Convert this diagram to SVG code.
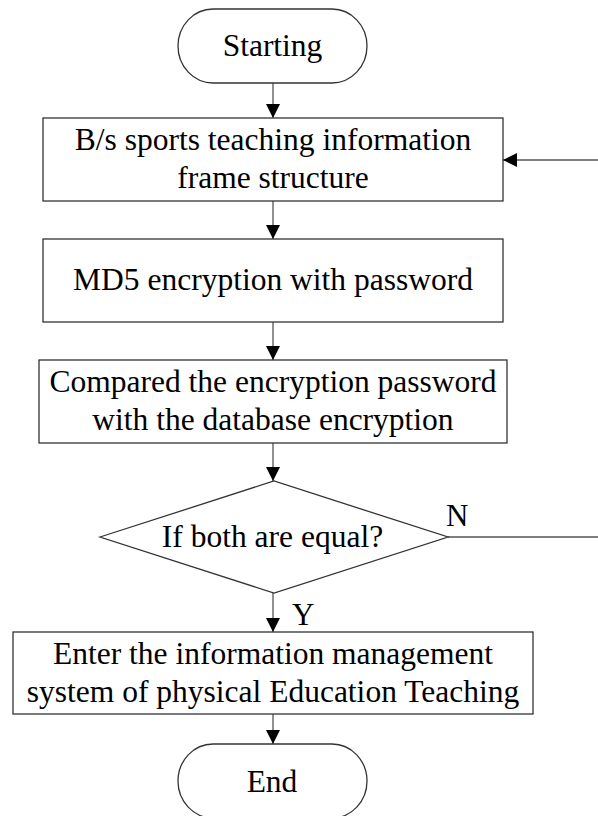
<svg xmlns="http://www.w3.org/2000/svg" width="598" height="816" viewBox="0 0 598 816">
<style>
.shape{fill:#fff;stroke:#333;stroke-width:1.3}
.t{font-family:"Liberation Serif","Times New Roman",serif;font-size:31.5px;fill:#000;text-anchor:middle}
.lbl{font-family:"Liberation Serif","Times New Roman",serif;font-size:31px;fill:#000}
.c{fill:none;stroke:#555;stroke-width:1.3}
</style>
<defs>
<marker id="ah" markerUnits="userSpaceOnUse" markerWidth="14" markerHeight="14" refX="14" refY="7" orient="auto">
<path d="M0,0 L14,7 L0,14 z" fill="#000"/>
</marker>
</defs>
<rect width="598" height="816" fill="#fff"/>
<g id="connectors">
<line class="c" x1="273" y1="83" x2="273" y2="118" marker-end="url(#ah)"/>
<line class="c" x1="273" y1="201" x2="273" y2="239" marker-end="url(#ah)"/>
<line class="c" x1="273" y1="322" x2="273" y2="360" marker-end="url(#ah)"/>
<line class="c" x1="273" y1="443" x2="273" y2="481" marker-end="url(#ah)"/>
<line class="c" x1="273" y1="593" x2="273" y2="632" marker-end="url(#ah)"/>
<line class="c" x1="273" y1="714" x2="273" y2="744" marker-end="url(#ah)"/>
<line class="c" x1="448" y1="537" x2="598" y2="537"/>
<line class="c" x1="598" y1="160" x2="503" y2="160" marker-end="url(#ah)"/>
<text class="lbl" x="446" y="526">N</text>
<text class="lbl" x="292" y="625">Y</text>
</g>
<g id="start">
<rect class="shape" x="178" y="9" width="189" height="74" rx="35" ry="37"/>
<text class="t" x="272.5" y="56">Starting</text>
</g>
<g id="frame">
<rect class="shape" x="43" y="118" width="460" height="83"/>
<text class="t" x="273" y="150">B/s sports teaching information</text>
<text class="t" x="273" y="188">frame structure</text>
</g>
<g id="md5">
<rect class="shape" x="43" y="239" width="460" height="83"/>
<text class="t" x="273" y="290">MD5 encryption with password</text>
</g>
<g id="compare">
<rect class="shape" x="39" y="360" width="468" height="83"/>
<text class="t" x="273" y="392">Compared the encryption password</text>
<text class="t" x="273" y="430">with the database encryption</text>
</g>
<g id="decision">
<polygon class="shape" points="100,537 274,481 448,537 274,593"/>
<text class="t" x="272.5" y="547">If both are equal?</text>
</g>
<g id="enter">
<rect class="shape" x="13" y="632" width="520" height="82"/>
<text class="t" x="273" y="664">Enter the information management</text>
<text class="t" x="273" y="702">system of physical Education Teaching</text>
</g>
<g id="end">
<rect class="shape" x="178" y="744" width="189" height="74" rx="35" ry="37"/>
<text class="t" x="272" y="792">End</text>
</g>
</svg>
